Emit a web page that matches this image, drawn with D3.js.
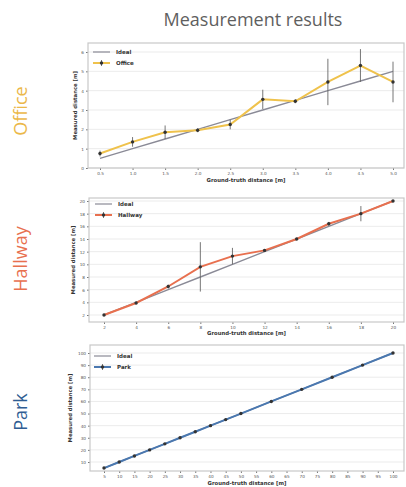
<!DOCTYPE html>
<html><head><meta charset="utf-8">
<script src="https://cdn.jsdelivr.net/npm/d3@7"></script>
<style>html,body{margin:0;padding:0;background:#fff;}svg{display:block;}</style>
</head><body>
<svg id="c" width="406" height="487"></svg>
<script>
// ---- Data ----
const officeX = [0.5,1.0,1.5,2.0,2.5,3.0,3.5,4.0,4.5,5.0];
const officeY = [0.75,1.35,1.85,1.95,2.25,3.55,3.45,4.45,5.3,4.45];
const officeErr = [0.15,0.25,0.35,0.1,0.25,0.5,0.1,1.2,0.85,1.05];
const officeXTicks = [0.5,1.0,1.5,2.0,2.5,3.0,3.5,4.0,4.5,5.0];
const officeYTicks = [0,1,2,3,4,5,6];

const hallX = [2,4,6,8,10,12,14,16,18,20];
const hallY = [2.0,3.9,6.5,9.6,11.3,12.2,14.0,16.4,18.0,20.0];
const hallErr = [0.1,0.15,0.3,3.9,1.3,0.2,0.15,0.3,1.2,0.1];
const hallXTicks = [2,4,6,8,10,12,14,16,18,20];
const hallYTicks = [2,4,6,8,10,12,14,16,18,20];

const parkX = [5,10,15,20,25,30,35,40,45,50,60,70,80,90,100];
const parkY = [5,10,15,20,25,30,35,40,45,50,60,70,80,90,100];
const parkErr = [0.3,0.3,0.3,0.3,0.3,0.3,0.3,0.3,0.3,0.3,0.3,0.3,0.3,0.3,0.3];
const parkXTicks = [5,10,15,20,25,30,35,40,45,50,55,60,65,70,75,80,85,90,95,100];
const parkYTicks = [10,20,30,40,50,60,70,80,90,100];

const panels = [
  {name:"Office", color:"#EFC24C", xs:officeX, ys:officeY, err:officeErr, xt:officeXTicks, yt:officeYTicks,
   fmtX:d3.format(".1f"), fmtY:d3.format("d"),
   frame:{l:88,t:43,r:404,b:168}, xr:[100,393], yr:[168,52], xd:[0.5,5.0], yd:[0,6],
   label:{x:21,y:111}, ylab:{x:77}, leg:{x:93,y:52}, xlabDy:14},
  {name:"Hallway", color:"#E8704F", xs:hallX, ys:hallY, err:hallErr, xt:hallXTicks, yt:hallYTicks,
   fmtX:d3.format("d"), fmtY:d3.format("d"),
   frame:{l:89,t:198,r:404,b:322}, xr:[104,393], yr:[315,201], xd:[2,20], yd:[2,20],
   label:{x:21,y:259}, ylab:{x:75}, leg:{x:95,y:204}, xlabDy:13},
  {name:"Park", color:"#4A78B0", xs:parkX, ys:parkY, err:parkErr, xt:parkXTicks, yt:parkYTicks,
   fmtX:d3.format("d"), fmtY:d3.format("d"),
   frame:{l:90,t:345,r:404,b:471}, xr:[104,393], yr:[462,353], xd:[5,100], yd:[10,100],
   label:{x:21,y:412}, ylab:{x:72}, leg:{x:94,y:356}, xlabDy:13.5}
];
const labelColors = {Office:"#EBB84A", Hallway:"#E8704F", Park:"#2F5D93"};

const svg = d3.select("#c");
svg.append("text").attr("x",253).attr("y",26).attr("text-anchor","middle")
  .attr("font-family","Open Sans, sans-serif").attr("font-size",18).attr("fill","#5f5f5f")
  .text("Measurement results");

panels.forEach(p => {
  const x = d3.scaleLinear().domain(p.xd).range(p.xr);
  const y = d3.scaleLinear().domain(p.yd).range(p.yr);
  const g = svg.append("g");
  const f = p.frame;
  svg.append("text").attr("transform",`translate(${p.label.x+6},${p.label.y}) rotate(-90)`)
    .attr("text-anchor","middle").attr("font-family","Open Sans, sans-serif").attr("font-size",18)
    .attr("fill",labelColors[p.name]).text(p.name);
  g.append("rect").attr("x",f.l).attr("y",f.t).attr("width",f.r-f.l).attr("height",f.b-f.t).attr("fill","#fff");
  g.selectAll("line.grid").data(p.yt).join("line").attr("class","grid")
    .attr("x1",f.l).attr("x2",f.r).attr("y1",d=>y(d)).attr("y2",d=>y(d))
    .attr("stroke","#e6e6e6").attr("stroke-width",0.8);
  const xa = g.append("g").attr("transform",`translate(0,${f.b})`)
    .call(d3.axisBottom(x).tickValues(p.xt).tickFormat(p.fmtX).tickSize(2).tickPadding(2));
  const ya = g.append("g").attr("transform",`translate(${f.l},0)`)
    .call(d3.axisLeft(y).tickValues(p.yt).tickFormat(p.fmtY).tickSize(2).tickPadding(2));
  [xa,ya].forEach(a=>{
    a.select(".domain").remove();
    a.selectAll("line").attr("stroke","#777");
    a.selectAll("text").attr("font-size",4.2).attr("fill","#555").attr("font-family","DejaVu Sans, sans-serif");
  });
  g.append("rect").attr("x",f.l).attr("y",f.t).attr("width",f.r-f.l).attr("height",f.b-f.t)
    .attr("fill","none").attr("stroke","#c8c8c8").attr("stroke-width",1.2);
  g.append("text").attr("x",(f.l+f.r)/2).attr("y",f.b+p.xlabDy).attr("text-anchor","middle")
    .attr("font-family","DejaVu Sans, sans-serif").attr("font-weight","bold").attr("font-size",5.3).attr("fill","#333")
    .text("Ground-truth distance [m]");
  g.append("text").attr("transform",`translate(${p.ylab.x},${(f.t+f.b)/2}) rotate(-90)`).attr("text-anchor","middle")
    .attr("font-family","DejaVu Sans, sans-serif").attr("font-weight","bold").attr("font-size",5.3).attr("fill","#333")
    .text("Measured distance [m]");
  const idealLine = d3.line().x(d=>x(d)).y(d=>y(d));
  g.append("path").attr("d",idealLine(p.xs)).attr("fill","none").attr("stroke","#8a8a96").attr("stroke-width",1.4);
  const ml = d3.line().x((d,i)=>x(p.xs[i])).y(d=>y(d));
  g.append("path").attr("d",ml(p.ys)).attr("fill","none").attr("stroke",p.color).attr("stroke-width",2);
  g.selectAll("line.err").data(p.ys).join("line").attr("class","err")
    .attr("x1",(d,i)=>x(p.xs[i])).attr("x2",(d,i)=>x(p.xs[i]))
    .attr("y1",(d,i)=>y(d-p.err[i])).attr("y2",(d,i)=>y(d+p.err[i]))
    .attr("stroke","#666").attr("stroke-width",0.9);
  g.selectAll("circle.pt").data(p.ys).join("circle").attr("class","pt")
    .attr("cx",(d,i)=>x(p.xs[i])).attr("cy",d=>y(d)).attr("r",1.7).attr("fill","#333");
  const L = p.leg;
  g.append("line").attr("x1",L.x).attr("x2",L.x+17).attr("y1",L.y).attr("y2",L.y).attr("stroke","#8a8a96").attr("stroke-width",1.2);
  g.append("text").attr("x",L.x+23).attr("y",L.y+2).attr("font-family","DejaVu Sans, sans-serif").attr("font-weight","bold")
    .attr("font-size",5.5).attr("fill","#333").text("Ideal");
  g.append("line").attr("x1",L.x).attr("x2",L.x+17).attr("y1",L.y+11).attr("y2",L.y+11).attr("stroke",p.color).attr("stroke-width",2);
  g.append("line").attr("x1",L.x+8.5).attr("x2",L.x+8.5).attr("y1",L.y+8).attr("y2",L.y+14).attr("stroke","#666").attr("stroke-width",0.9);
  g.append("circle").attr("cx",L.x+8.5).attr("cy",L.y+11).attr("r",1.7).attr("fill","#333");
  g.append("text").attr("x",L.x+23).attr("y",L.y+13).attr("font-family","DejaVu Sans, sans-serif").attr("font-weight","bold")
    .attr("font-size",5.5).attr("fill","#333").text(p.name);
});
</script>
</body></html>
